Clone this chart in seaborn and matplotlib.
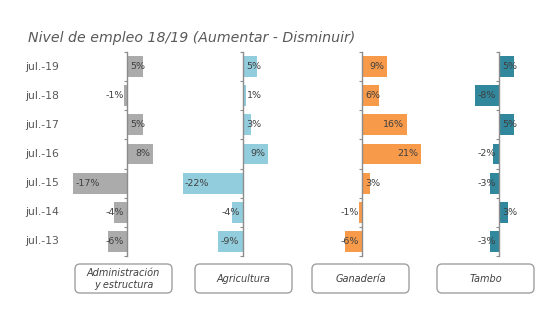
import matplotlib
matplotlib.use("Agg")
import matplotlib.pyplot as plt
import seaborn as sns
import pandas as pd
from matplotlib.patches import FancyBboxPatch
from matplotlib.transforms import IdentityTransform, blended_transform_factory

# ---- data ----
periods = ["jul.-19", "jul.-18", "jul.-17", "jul.-16", "jul.-15", "jul.-14", "jul.-13"]
sectors = ["Administración\ny estructura", "Agricultura", "Ganadería", "Tambo"]
admin = [5, -1, 5, 8, -17, -4, -6]
agricultura = [5, 1, 3, 9, -22, -4, -9]
ganaderia = [9, 6, 16, 21, 3, -1, -6]
tambo = [5, -8, 5, -2, -3, 3, -3]
title = "Nivel de empleo 18/19 (Aumentar - Disminuir)"

series = [admin, agricultura, ganaderia, tambo]
colors = ["#ABABAB", "#92CDDD", "#F79A4A", "#31879C"]

sns.set_theme(style="white")
plt.rcParams['font.family'] = ['DejaVu Sans']

W, H = 551, 310
fig = plt.figure(figsize=(W / 100, H / 100), dpi=100)

# layout in pixels: zero position, px per unit, xlim
zeros = [127, 243, 362, 499]
scales = [3.2, 2.75, 2.8, 3.0]
xlims = [(-18, 9), (-23, 11), (-7, 23), (-9, 7)]
top_px, bot_px = 52, 256
box_x = [75, 195, 312, 437]
box_w = 97

text_col = "#404040"
for i, (vals, col) in enumerate(zip(series, colors)):
    a, b = xlims[i]
    s = scales[i]
    L = zeros[i] + a * s
    Wd = (b - a) * s
    ax = fig.add_axes([L / W, 1 - bot_px / H, Wd / W, (bot_px - top_px) / H])
    df = pd.DataFrame({"period": periods, "value": vals})
    sns.barplot(data=df, y="period", x="value", orient="h", color=col,
                width=0.72, saturation=1, ax=ax, edgecolor="none")
    ax.set_xlim(a, b)
    ax.set_ylim(6.5, -0.5)
    ax.set_xlabel("")
    ax.set_ylabel("")
    ax.set_xticks([])
    for sp in ["top", "right", "bottom"]:
        ax.spines[sp].set_visible(False)
    ax.spines["left"].set_position(("data", 0))
    ax.spines["left"].set_color("#8C8C8C")
    ax.spines["left"].set_linewidth(1.0)
    ax.set_yticks([k - 0.5 for k in range(len(periods) + 1)])
    ax.set_yticklabels([])
    ax.tick_params(axis="y", direction="out", length=2.5, width=0.8,
                   color="#8C8C8C", left=True)
    ax.patch.set_alpha(0)
    # data labels
    for j, v in enumerate(vals):
        lab = f"{v}%"
        est_w = 5.0 * len(lab.replace("%", "")) + 8
        bar_px = abs(v) * s
        pad = 2.5 / s
        if bar_px > est_w + 4:
            if v > 0:
                x, ha = v - pad, "right"
            else:
                x, ha = v + pad, "left"
        else:
            if v >= 0:
                x, ha = 3.5 / s, "left"
            else:
                x, ha = -3.0 / s, "right"
        ax.text(x, j, lab, ha=ha, va="center", fontsize=6.8, color=text_col,
                clip_on=False)
    if i == 0:
        tr = blended_transform_factory(fig.transFigure, ax.transData)
        for j, p in enumerate(periods):
            ax.text(25 / W, j, p, transform=tr, ha="left", va="center",
                    fontsize=7.8, color="#595959")

# sector boxes
for i, name in enumerate(sectors):
    x0 = box_x[i]
    y0 = H - 293
    bx = FancyBboxPatch((x0, y0), box_w, 29,
                        boxstyle="round,pad=0,rounding_size=5",
                        transform=IdentityTransform(), fc="white",
                        ec="#A0A0A0", lw=1.0)
    fig.patches.append(bx)
    fig.text((x0 + box_w / 2) / W, (y0 + 14.5) / H, name, ha="center",
             va="center", fontsize=7, style="italic", color=text_col,
             linespacing=1.25)

fig.text(28 / W, 1 - 38 / H, title, ha="left", va="center", fontsize=10.2,
         style="italic", color="#595959")

fig.savefig("out.png", dpi=100, facecolor="white")
